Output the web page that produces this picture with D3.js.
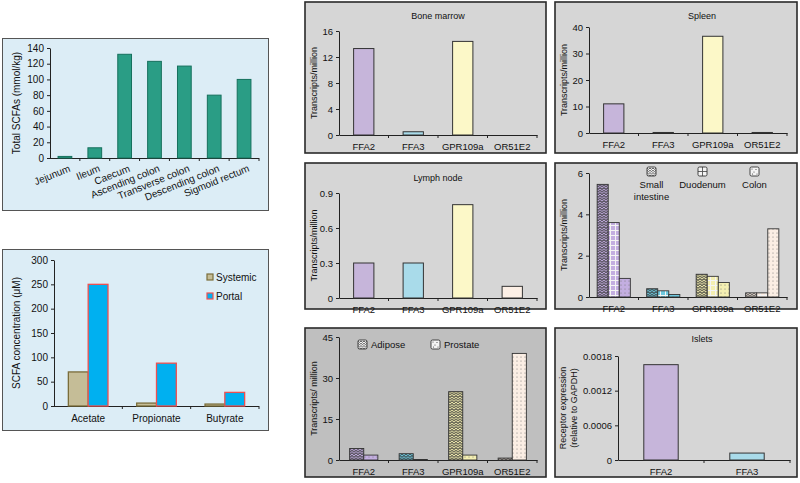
<!DOCTYPE html>
<html><head><meta charset="utf-8">
<script src="https://cdn.jsdelivr.net/npm/d3@7"></script>
<style>body{margin:0;background:#fff}svg{display:block;font-family:"Liberation Sans",Arial,sans-serif}</style>
</head><body><svg id="c" width="800" height="483"></svg>
<script>
// ---- data ----
const gutSites = ["Jejunum","Ileum","Caecum","Ascending colon","Transverse colon","Descending colon","Sigmoid rectum"];
const gutSCFA = [2,13,132,123,117,80,100];
const gutTicks = [0,20,40,60,80,100,120,140];

const acids = ["Acetate","Propionate","Butyrate"];
const systemic = [70,6,4];
const portal = [250,88,28];
const acidTicks = [0,50,100,150,200,250,300];
const bloodSeries = ["Systemic","Portal"];

const receptors = ["FFA2","FFA3","GPR109a","OR51E2"];
const boneMarrow = [13.3,0.5,14.4,0];
const boneTicks = [0,4,8,12,16];
const spleen = [11,0.2,36.5,0.2];
const spleenTicks = [0,10,20,30,40];
const lymphNode = [0.3,0.3,0.8,0.1];
const lymphTicks = [0,0.3,0.6,0.9];
const gutTissues = ["Small intestine","Duodenum","Colon"];
const smallIntestine = [5.45,0.4,1.1,0.2];
const duodenum = [3.6,0.3,1.0,0.2];
const colon = [0.9,0.12,0.7,3.3];
const intestineTicks = [0,2,4,6];
const otherTissues = ["Adipose","Prostate"];
const adipose = [4.2,2.3,25,0.7];
const prostate = [1.8,0.2,1.8,39];
const adiposeTicks = [0,15,30,45];
const isletReceptors = ["FFA2","FFA3"];
const islets = [0.00165,0.00012];
const isletTicks = [0,0.0006,0.0012,0.0018];

// ---- styles ----
const geneFill = {FFA2:"#c6b5da", FFA3:"#a9dbea", GPR109a:"#fcf8c8", OR51E2:"#fcefe5"};
const geneFillPat = {FFA2:"#c3aee0", FFA3:"#6fc9df", GPR109a:"#f4efb2", OR51E2:"#fbeee4"};

const svg = d3.select("#c");
const defs = svg.append("defs");

function makePattern(id, base, type, ink, gridInk) {
  const p = defs.append("pattern").attr("id", id).attr("patternUnits","userSpaceOnUse");
  if (type === "zig") {
    p.attr("width",4).attr("height",2.6);
    p.append("rect").attr("width",4).attr("height",2.6).attr("fill",base);
    p.append("path").attr("d","M0,0.4 L2,2.2 L4,0.4").attr("fill","none").attr("stroke",ink).attr("stroke-width",0.9);
  } else if (type === "grid") {
    p.attr("width",5).attr("height",5);
    p.append("rect").attr("width",5).attr("height",5).attr("fill",base);
    p.append("path").attr("d","M0,0.5H5M0.5,0V5").attr("stroke",gridInk).attr("stroke-width",1);
  } else {
    p.attr("width",4).attr("height",4);
    p.append("rect").attr("width",4).attr("height",4).attr("fill",base);
    p.append("circle").attr("cx",1).attr("cy",1).attr("r",0.55).attr("fill",ink);
  }
}
const patTypes = ["zig","grid","dot"];
receptors.forEach(r => patTypes.forEach(t => makePattern(`p-${r}-${t}`, geneFillPat[r], t, t==="zig" ? "#333" : "#777", "#f4f4f4")));
patTypes.forEach(t => {
  const p = defs.append("pattern").attr("id",`p-legend-${t}`).attr("patternUnits","objectBoundingBox")
    .attr("width",1).attr("height",1);
  p.append("rect").attr("width",9).attr("height",9).attr("fill","#f4f4f4");
  if (t === "zig") {
    [1,3.3,5.6,7.9].forEach(yy => p.append("path").attr("d",`M0,${yy} L1.5,${yy+1.3} L3,${yy} L4.5,${yy+1.3} L6,${yy} L7.5,${yy+1.3} L9,${yy}`)
      .attr("fill","none").attr("stroke","#333").attr("stroke-width",0.8));
  } else if (t === "grid") {
    p.append("path").attr("d","M0,4.5H9M4.5,0V9").attr("stroke","#555").attr("stroke-width",0.9);
  } else {
    [[2,2],[6,2.5],[4,5],[2.5,7],[7,7]].forEach(c => p.append("circle").attr("cx",c[0]).attr("cy",c[1]).attr("r",0.6).attr("fill","#444"));
  }
});

function fmt(d){ return String(d); }

function styleAxis(sel, fs){
  sel.attr("font-size", fs).attr("font-family", null);
  sel.selectAll("text").attr("fill","#111");
  sel.selectAll("path,line").attr("stroke","#222");
}

// ================= Panel 1: total SCFAs along gut =================
(function(){
  const g = svg.append("g");
  g.append("rect").attr("x",2.5).attr("y",38.5).attr("width",266).attr("height",172).attr("fill","#dcedf6").attr("stroke","#555");
  const x = d3.scaleBand().domain(gutSites).range([50,259]);
  const y = d3.scaleLinear().domain([0,140]).range([158,48]);
  const ya = g.append("g").attr("transform","translate(50,0)")
    .call(d3.axisLeft(y).tickValues(gutTicks).tickSize(3).tickSizeOuter(0).tickFormat(fmt));
  styleAxis(ya, 10);
  g.append("line").attr("x1",50).attr("x2",259).attr("y1",158.5).attr("y2",158.5).attr("stroke","#222");
  gutSites.slice(1).map(c => x(c)).concat([259]).forEach(v =>
    g.append("line").attr("x1",v).attr("x2",v).attr("y1",158).attr("y2",161).attr("stroke","#222"));
  const bw = x.bandwidth()*0.46;
  g.selectAll(".b").data(gutSites).join("rect")
    .attr("x", d => x(d) + (x.bandwidth()-bw)/2).attr("width", bw)
    .attr("y", (d,i) => y(gutSCFA[i])).attr("height", (d,i) => y(0)-y(gutSCFA[i]))
    .attr("fill","#2a9d85").attr("stroke","#16705d").attr("stroke-width",1);
  g.selectAll(".xl").data(gutSites).join("text")
    .attr("transform", d => `translate(${x(d)+x.bandwidth()/2+6},${171}) rotate(-22)`)
    .attr("text-anchor","end").attr("font-size",10).attr("fill","#111").text(d => d);
  g.append("text").attr("transform","translate(20,103) rotate(-90)").attr("text-anchor","middle")
    .attr("font-size",10).attr("fill","#111").text("Total SCFAs (mmol/kg)");
})();

// ================= Panel 2: systemic vs portal =================
(function(){
  const g = svg.append("g");
  g.append("rect").attr("x",2.5).attr("y",249.5).attr("width",266).attr("height",181).attr("fill","#dcedf6").attr("stroke","#555");
  const x = d3.scaleBand().domain(acids).range([54,259]);
  const y = d3.scaleLinear().domain([0,300]).range([406,260]);
  const ya = g.append("g").attr("transform","translate(54,0)")
    .call(d3.axisLeft(y).tickValues(acidTicks).tickSize(3).tickSizeOuter(0).tickFormat(fmt));
  styleAxis(ya, 10);
  g.append("line").attr("x1",54).attr("x2",259).attr("y1",406.5).attr("y2",406.5).attr("stroke","#222");
  acids.slice(1).map(c => x(c)).concat([259]).forEach(v =>
    g.append("line").attr("x1",v).attr("x2",v).attr("y1",406).attr("y2",409).attr("stroke","#222"));
  const inner = d3.scaleBand().domain(bloodSeries).range([0, x.bandwidth()*0.58]);
  const off = x.bandwidth()*0.21;
  const sets = [systemic, portal];
  const fills = ["#c5bd97","#00b0f0"], strokes = ["#7a6d3a","#f05050"];
  bloodSeries.forEach((s,si) => {
    g.selectAll(".s"+si).data(acids).join("rect")
      .attr("x", d => x(d)+off+inner(s)).attr("width", inner.bandwidth())
      .attr("y", (d,i) => y(sets[si][i])).attr("height", (d,i) => y(0)-y(sets[si][i]))
      .attr("fill", fills[si]).attr("stroke", strokes[si]).attr("stroke-width", 1.3);
    g.append("rect").attr("x",207).attr("y",274+si*19).attr("width",6).attr("height",6)
      .attr("fill", fills[si]).attr("stroke", strokes[si]).attr("stroke-width",1.2);
    g.append("text").attr("x",216).attr("y",281+si*19).attr("font-size",10).attr("fill","#111").text(s);
  });
  g.selectAll(".xl").data(acids).join("text")
    .attr("x", d => x(d)+x.bandwidth()/2).attr("y",422).attr("text-anchor","middle")
    .attr("font-size",10).attr("fill","#111").text(d => d);
  g.append("text").attr("transform","translate(20,333) rotate(-90)").attr("text-anchor","middle")
    .attr("font-size",10).attr("fill","#111").text("SCFA concentration (\u03bcM)");
})();

// ================= grey panels =================
function grayPanel(o){
  const g = svg.append("g");
  g.append("rect").attr("x",o.x0).attr("y",o.y0).attr("width",o.x1-o.x0).attr("height",o.y1-o.y0)
    .attr("fill", o.bg || "#d6d6d6").attr("stroke","#2a2a2a").attr("stroke-width",1.6);
  if (o.title) g.append("text").attr("x",o.titleX).attr("y",o.titleY).attr("text-anchor","middle")
    .attr("font-size",9).attr("fill","#111").text(o.title);
  const x = d3.scaleBand().domain(o.cats).range([o.ax, o.xEnd]);
  const y = d3.scaleLinear().domain([0, o.max]).range([o.yb, o.yt]);
  const ya = g.append("g").attr("transform",`translate(${o.ax},0)`)
    .call(d3.axisLeft(y).tickValues(o.ticks).tickSize(3).tickSizeOuter(0).tickFormat(fmt));
  styleAxis(ya, 9.5);
  const xa = g.append("g").attr("transform",`translate(0,${o.yb})`)
    .call(d3.axisBottom(x).tickSize(0).tickPadding(8).tickSizeOuter(0));
  styleAxis(xa, 9.5);
  o.cats.slice(1).map(c => x(c)).concat([o.xEnd]).forEach(v =>
    g.append("line").attr("x1",v).attr("x2",v).attr("y1",o.yb).attr("y2",o.yb+3).attr("stroke","#222"));
  o.ylabel.forEach((t,i) => g.append("text")
    .attr("transform",`translate(${o.ylx + i*11},${(o.yb+o.yt)/2}) rotate(-90)`)
    .attr("text-anchor","middle").attr("font-size",9).attr("fill","#111").text(t));
  return {g,x,y};
}

function singleBars(p, cats, vals, frac){
  const bw = p.x.bandwidth()*frac;
  p.g.selectAll(".bar").data(cats).join("rect")
    .attr("x", d => p.x(d) + (p.x.bandwidth()-bw)/2).attr("width", bw)
    .attr("y", (d,i) => p.y(vals[i])).attr("height", (d,i) => p.y(0)-p.y(vals[i]))
    .attr("fill", d => geneFill[d]).attr("stroke","#333").attr("stroke-width",1);
}

function groupedBars(p, series, sets, types, frac){
  const gw = p.x.bandwidth()*frac;
  const inner = d3.scaleBand().domain(series).range([0, gw]);
  series.forEach((s,si) => {
    p.g.selectAll(".g"+si).data(receptors).join("rect")
      .attr("x", d => p.x(d) + (p.x.bandwidth()-gw)/2 + inner(s)).attr("width", inner.bandwidth())
      .attr("y", (d,i) => p.y(sets[si][i])).attr("height", (d,i) => p.y(0)-p.y(sets[si][i]))
      .attr("fill", d => `url(#p-${d}-${types[si]})`).attr("stroke","#333").attr("stroke-width",0.9);
  });
}

// Bone marrow
const pBM = grayPanel({x0:305,y0:2,x1:546,y1:153,title:"Bone marrow",titleX:438,titleY:19,
  cats:receptors,ax:339,xEnd:537,yb:135,yt:31,max:16,ticks:boneTicks,ylabel:["Transcripts/million"],ylx:317});
singleBars(pBM, receptors, boneMarrow, 0.41);

// Spleen
const pSp = grayPanel({x0:555,y0:2,x1:797,y1:153,title:"Spleen",titleX:702,titleY:19,
  cats:receptors,ax:589,xEnd:787,yb:133,yt:27,max:40,ticks:spleenTicks,ylabel:["Transcripts/million"],ylx:567});
singleBars(pSp, receptors, spleen, 0.41);

// Lymph node
const pLN = grayPanel({x0:305,y0:163,x1:546,y1:309,title:"Lymph node",titleX:438,titleY:181,
  cats:receptors,ax:339,xEnd:537,yb:298,yt:193,max:0.9,ticks:lymphTicks,ylabel:["Transcripts/million"],ylx:317});
singleBars(pLN, receptors, lymphNode, 0.41);

// Intestine
const pIn = grayPanel({x0:555,y0:163,x1:797,y1:309,title:null,
  cats:receptors,ax:589,xEnd:787,yb:297,yt:173,max:6,ticks:intestineTicks,ylabel:["Transcripts/million"],ylx:567});
groupedBars(pIn, gutTissues, [smallIntestine, duodenum, colon], ["zig","grid","dot"], 0.67);
const inLegend = [{x:647,lab:["Small","intestine"]},{x:698,lab:["Duodenum"]},{x:750,lab:["Colon"]}];
gutTissues.forEach((t,i) => {
  const L = inLegend[i];
  pIn.g.append("rect").attr("x",L.x).attr("y",167).attr("width",9).attr("height",9).attr("rx",1.5)
    .attr("fill",`url(#p-legend-${patTypes[i]})`).attr("stroke","#333").attr("stroke-width",0.9);
  L.lab.forEach((s,j) => pIn.g.append("text").attr("x",L.x+4.5).attr("y",188+j*12)
    .attr("text-anchor","middle").attr("font-size",9.5).attr("fill","#111").text(s));
});

// Adipose / prostate
const pAd = grayPanel({x0:305,y0:328,x1:546,y1:477,bg:"#bfbfbf",title:null,
  cats:receptors,ax:339,xEnd:537,yb:460,yt:337,max:45,ticks:adiposeTicks,ylabel:["Transcripts/ million"],ylx:317});
groupedBars(pAd, otherTissues, [adipose, prostate], ["zig","dot"], 0.57);
[{x:358},{x:431}].forEach((L,i) => {
  pAd.g.append("rect").attr("x",L.x).attr("y",340).attr("width",9).attr("height",9).attr("rx",1.5)
    .attr("fill",`url(#p-legend-${i===0?"zig":"dot"})`).attr("stroke","#333").attr("stroke-width",0.9);
  pAd.g.append("text").attr("x",L.x+13).attr("y",348).attr("font-size",9.5).attr("fill","#111").text(otherTissues[i]);
});

// Islets
const pIs = grayPanel({x0:555,y0:328,x1:797,y1:477,title:"Islets",titleX:702,titleY:342,
  cats:isletReceptors,ax:618,xEnd:790,yb:460,yt:356,max:0.0018,ticks:isletTicks,
  ylabel:["Receptor expression","(relative to GAPDH)"],ylx:566});
singleBars(pIs, isletReceptors, islets, 0.4);
</script></body></html>
